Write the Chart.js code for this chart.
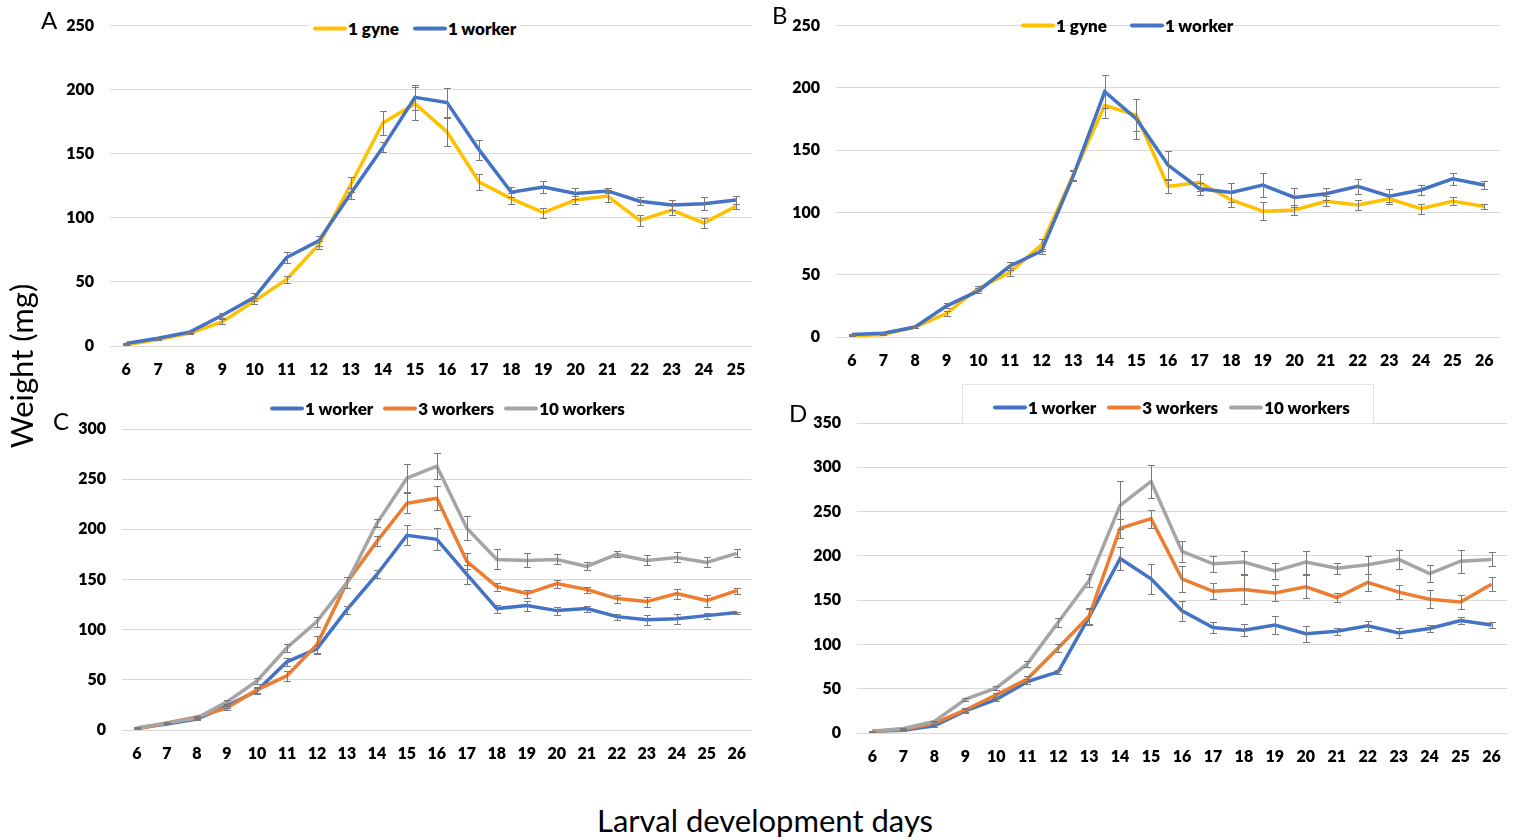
<!DOCTYPE html>
<html lang="en">
<head>
    <meta charset="UTF-8">
    <title>Larval weight</title>
    <script src="https://cdn.jsdelivr.net/npm/chart.js"></script>
    <style>
        body { margin: 0; width: 1515px; height: 839px; background: #fff; position: relative; overflow: hidden; font-family: Lato, sans-serif; }
        canvas { position: absolute; }
        .letter { position: absolute; font-size: 24px; line-height: 1; color: #000; }
        .title { position: absolute; font-size: 31px; line-height: 1; color: #000; white-space: nowrap; }
        .legend { position: absolute; display: flex; align-items: center; transform: translateY(-50%); font-weight: 800; font-size: 17px; color: #000; white-space: nowrap; }
        .legend .sw { display: inline-block; width: 34px; height: 4px; border-radius: 2px; margin-right: 1px; }
        .legbox { position: absolute; background: #fff; border: 1px solid #e3e3e3; }
    </style>
</head>
<body>
    <canvas id="chartA" width="760" height="390" style="left:0;top:0"></canvas>
    <canvas id="chartB" width="755" height="380" style="left:760px;top:0"></canvas>
    <canvas id="chartC" width="760" height="385" style="left:0;top:390px"></canvas>
    <canvas id="chartD" width="755" height="395" style="left:760px;top:380px"></canvas>

    <div class="letter" style="left:41px;top:8px">A</div>
    <div class="letter" style="left:772px;top:3px">B</div>
    <div class="letter" style="left:53px;top:409px">C</div>
    <div class="letter" style="left:789px;top:401px">D</div>

    <div class="legbox" style="left:962px;top:384px;width:410px;height:38px"></div>
    <div class="legend" id="legA" style="left:309px;top:28px;background:#fff;padding:0 4px"></div>
    <div class="legend" id="legB" style="left:1021px;top:25px"></div>
    <div class="legend" id="legC" style="left:270px;top:408px"></div>
    <div class="legend" id="legD" style="left:993px;top:407px"></div>

    <div class="title" style="left:21px;top:366px;transform:translate(-50%,-50%) rotate(-90deg)">Weight (mg)</div>
    <div class="title" style="left:765px;top:820px;transform:translate(-50%,-50%)">Larval development days</div>

    <script>
        // days on the x axis
        const daysA = ['6', '7', '8', '9', '10', '11', '12', '13', '14', '15', '16', '17', '18', '19', '20', '21', '22', '23', '24', '25'];
        const daysB = ['6', '7', '8', '9', '10', '11', '12', '13', '14', '15', '16', '17', '18', '19', '20', '21', '22', '23', '24', '25', '26'];

        // A
        const gyneA = [1, 5, 10, 19, 35, 52, 79, 126, 174, 189, 167, 128, 115, 104, 114, 117, 98, 106, 96, 109];
        const gyneAErr = [0.5, 0.5, 1, 2, 2.5, 3, 3, 6, 9, 13, 11, 6, 4, 4, 3, 5, 4, 4, 4, 2];
        const workerA = [2, 6, 11, 24, 38, 69, 82, 119, 155, 194, 190, 153, 120, 124, 119, 121, 113, 110, 111, 114];
        const workerAErr = [0.5, 0.5, 1, 2, 3, 4, 4, 4, 4, 10, 11.5, 8, 4, 4.5, 4, 2, 3, 4, 5, 3];

        // B
        const gyneB = [1, 2, 8, 19, 39, 52, 74, 130, 186, 178, 121, 124, 110, 101, 102, 109, 106, 111, 103, 109, 105];
        const gyneBErr = [0.5, 0.5, 1, 2, 2, 3, 5, 4, 10, 13, 5, 7, 6, 7, 4, 4, 4, 3, 4, 3, 2];
        const workerB = [2, 3, 8, 25, 37, 57, 69, 129, 197, 175, 138, 119, 116, 122, 112, 115, 121, 113, 118, 127, 122];
        const workerBErr = [0.5, 0.5, 1, 2, 2, 3, 2, 4, 13, 16, 11, 5, 8, 10, 8, 5, 6, 6, 4, 5, 3];

        // C
        const oneWorkerC = [2, 6, 11, 24, 39, 68, 81, 120, 155, 194, 190, 155, 121, 124, 119, 121, 113, 110, 111, 114, 117];
        const oneWorkerCErr = [0.5, 0.5, 1, 2, 3, 4, 4, 4, 4, 10, 11, 9, 4, 5, 4, 3, 3, 5, 5, 3, 1];
        const threeWorkersC = [1, 7, 13, 22, 40, 54, 85, 147, 188, 226, 231, 168, 143, 136, 146, 140, 131, 128, 136, 129, 139];
        const threeWorkersCErr = [0.5, 0.5, 1, 2, 3, 5, 9, 5, 5, 10, 12, 8, 4, 4, 4, 3, 4, 5, 5, 6, 3];
        const tenWorkersC = [2, 7, 12, 28, 49, 82, 108, 147, 206, 251, 263, 201, 170, 169, 170, 163, 175, 169, 172, 167, 176];
        const tenWorkersCErr = [0.5, 0.5, 1, 2, 3, 4, 5, 5, 4, 14, 13, 12, 10, 7, 5, 4, 3, 5, 5, 5, 4];

        // D
        const oneWorkerD = [2, 3, 8, 25, 38, 58, 69, 131, 197, 174, 138, 119, 116, 122, 112, 115, 121, 113, 118, 127, 122];
        const oneWorkerDErr = [0.5, 0.5, 1, 2, 2, 3, 2, 9, 13, 17, 11, 6, 7, 10, 9, 4, 6, 6, 4, 4, 3];
        const threeWorkersD = [2, 4, 11, 26, 43, 61, 96, 132, 231, 242, 174, 160, 162, 158, 165, 153, 170, 159, 151, 148, 168];
        const threeWorkersDErr = [0.5, 0.5, 1, 2, 2, 3, 5, 9, 11, 10, 15, 9, 16, 9, 13, 5, 10, 8, 10, 8, 8];
        const tenWorkersD = [2, 5, 13, 38, 51, 78, 125, 172, 257, 284, 205, 191, 193, 183, 193, 186, 190, 196, 180, 194, 196];
        const tenWorkersDErr = [0.5, 0.5, 1, 2, 2, 3, 5, 7, 27, 19, 12, 9, 13, 9, 13, 6, 10, 11, 10, 13, 8];

        const GOLD = '#FFC000', BLUE = '#4472C4', ORANGE = '#ED7D31', GREY = '#A5A5A5';

        Chart.defaults.font.family = 'Lato';

        // error bars, drawn over the lines like in Excel
        const errorBars = {
            id: 'errorBars',
            afterDatasetsDraw(chart) {
                const ctx = chart.ctx;
                const y = chart.scales.y;
                ctx.save();
                ctx.strokeStyle = '#7a7a7a';
                ctx.lineWidth = 1;
                chart.data.datasets.forEach((ds, i) => {
                    if (!ds.errors) return;
                    chart.getDatasetMeta(i).data.forEach((pt, j) => {
                        const e = ds.errors[j];
                        const v = ds.data[j];
                        const x = Math.round(pt.x) + 0.5;
                        const top = Math.round(y.getPixelForValue(v + e)) + 0.5;
                        const bot = Math.round(y.getPixelForValue(v - e)) + 0.5;
                        ctx.beginPath();
                        ctx.moveTo(x, top); ctx.lineTo(x, bot);
                        ctx.moveTo(x - 3.5, top); ctx.lineTo(x + 3.5, top);
                        ctx.moveTo(x - 3.5, bot); ctx.lineTo(x + 3.5, bot);
                        ctx.stroke();
                    });
                });
                ctx.restore();
            }
        };

        function makeChart(id, labels, series, yMax, yWidth, xHeight, pad) {
            return new Chart(document.getElementById(id), {
                type: 'line',
                data: {
                    labels: labels,
                    datasets: series.map((s, i) => ({
                        label: s.label,
                        data: s.data,
                        errors: s.err,
                        borderColor: s.color,
                        backgroundColor: s.color,
                        borderWidth: 3.5,
                        pointRadius: 0,
                        tension: 0,
                        order: series.length - i
                    }))
                },
                options: {
                    responsive: false,
                    animation: false,
                    devicePixelRatio: 1,
                    layout: { autoPadding: false, padding: pad },
                    plugins: { legend: { display: false }, tooltip: { enabled: false } },
                    scales: {
                        x: {
                            offset: true,
                            grid: { display: false, drawTicks: false },
                            border: { display: false },
                            ticks: { padding: 14, color: '#000', maxRotation: 0, autoSkip: false, font: { size: 16, weight: 800 } },
                            afterFit: s => { s.height = xHeight; }
                        },
                        y: {
                            min: 0,
                            max: yMax,
                            grid: { color: '#d9d9d9', lineWidth: 1, drawTicks: false },
                            border: { display: false },
                            ticks: { stepSize: 50, padding: 16, color: '#000', font: { size: 16, weight: 800 } },
                            afterFit: s => { s.width = yWidth; }
                        }
                    }
                },
                plugins: [errorBars]
            });
        }

        // html legend, same look as the Excel one
        function makeLegend(id, series, gap) {
            const box = document.getElementById(id);
            series.forEach((s, i) => {
                const item = document.createElement('span');
                item.style.display = 'flex';
                item.style.alignItems = 'center';
                if (i > 0) item.style.marginLeft = gap + 'px';
                item.innerHTML = '<span class="sw" style="background:' + s.color + '"></span>' + s.label;
                box.appendChild(item);
            });
        }

        const seriesA = [
            { label: '1 gyne', data: gyneA, err: gyneAErr, color: GOLD },
            { label: '1 worker', data: workerA, err: workerAErr, color: BLUE }
        ];
        const seriesB = [
            { label: '1 gyne', data: gyneB, err: gyneBErr, color: GOLD },
            { label: '1 worker', data: workerB, err: workerBErr, color: BLUE }
        ];
        const seriesC = [
            { label: '1 worker', data: oneWorkerC, err: oneWorkerCErr, color: BLUE },
            { label: '3 workers', data: threeWorkersC, err: threeWorkersCErr, color: ORANGE },
            { label: '10 workers', data: tenWorkersC, err: tenWorkersCErr, color: GREY }
        ];
        const seriesD = [
            { label: '1 worker', data: oneWorkerD, err: oneWorkerDErr, color: BLUE },
            { label: '3 workers', data: threeWorkersD, err: threeWorkersDErr, color: ORANGE },
            { label: '10 workers', data: tenWorkersD, err: tenWorkersDErr, color: GREY }
        ];

        makeChart('chartA', daysA, seriesA, 250, 110, 44, { top: 25, right: 8, bottom: 0, left: 0 });
        makeChart('chartB', daysB, seriesB, 250, 76, 43, { top: 17, right: 15, bottom: 0, left: 0 });
        makeChart('chartC', daysB, seriesC, 300, 122, 45, { top: 39, right: 0, bottom: 0, left: 0 });
        makeChart('chartD', daysB, seriesD, 350, 97, 42, { top: 43, right: 8, bottom: 0, left: 0 });

        makeLegend('legA', seriesA, 14);
        makeLegend('legB', seriesB, 23);
        makeLegend('legC', seriesC, 10);
        makeLegend('legD', seriesD, 11);
    </script>
</body>
</html>
